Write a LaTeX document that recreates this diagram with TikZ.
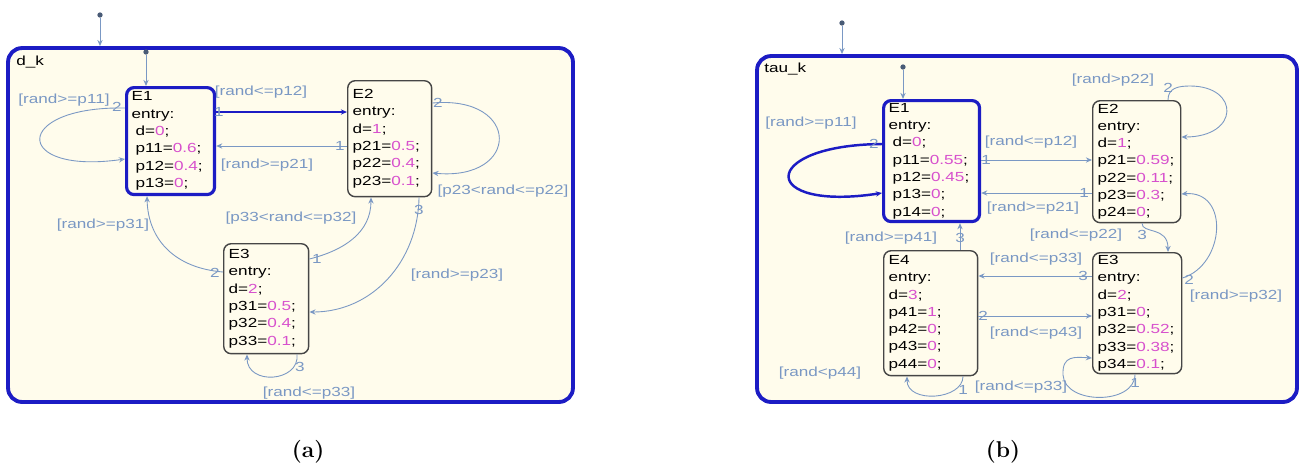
\documentclass[tikz,border=0pt]{standalone}
\usepackage{fontspec}
\newfontfamily\sflfont[FakeStretch=1.3]{Liberation Sans}
\usepackage{xcolor}
\usetikzlibrary{arrows.meta,positioning}

\definecolor{chartblue}{RGB}{28,28,196}
\definecolor{chartfill}{RGB}{255,252,236}
\definecolor{transblue}{RGB}{122,152,196}
\definecolor{stategrey}{RGB}{70,70,70}
\definecolor{valpink}{RGB}{215,80,205}
\newcommand{\val}[1]{\textcolor{valpink}{#1}}
\newcommand{\ind}{\hspace*{0.08cm}}

\begin{document}
\begin{tikzpicture}[x=0.02cm, y=-0.02cm,
    chart/.style={draw=chartblue, line width=2.2pt, fill=chartfill, rounded corners=0.28cm, inner sep=0pt},
    state/.style={draw=stategrey, line width=0.8pt, rounded corners=0.15cm, anchor=north west,
        align=left, inner xsep=0.1cm, inner ysep=0pt, font=\sflfont\fontsize{7.5}{9.85}\selectfont},
    active/.style={state, draw=chartblue, line width=1.8pt},
    trans/.style={transblue, line width=0.5pt, -{Stealth[open, length=3.5pt, width=3pt]}},
    hot/.style={trans, draw=chartblue, line width=1.4pt},
    guard/.style={text=transblue, inner sep=0pt, font=\sflfont\fontsize{7.5}{9}\selectfont},
    title/.style={anchor=north west, inner sep=0pt, font=\sflfont\fontsize{7.5}{9}\selectfont},
    dot/.style={circle, fill=transblue!60!black, inner sep=0pt, minimum size=3pt}
]
    \fill[white] (0,0) rectangle (1301,468);
    \useasboundingbox (0,0) rectangle (1301,468);

    %(a) chart d_k

    \node (dk) [chart, minimum width=11.3cm, minimum height=7.08cm] at (290.5,225) {};
    \node (dk_name) [title] at (16,56) {d\_k};
    \node (dk_top) [dot] at (100,15) {};
    \node (dk_in) [dot] at (146,52) {};

    \node (dk_e1) [active, text width=1.56cm, minimum height=2.14cm] at (125,86)
    {
        E1\\entry:\\\ind d=\val{0};\\\ind p11=\val{0.6};\\\ind p12=\val{0.4};\\\ind p13=\val{0};
    };
    \node (dk_e2) [state, text width=1.48cm, minimum height=2.32cm] at (347,80)
    {
        E2\\entry:\\d=\val{1};\\p21=\val{0.5};\\p22=\val{0.4};\\p23=\val{0.1};
    };
    \node (dk_e3) [state, text width=1.5cm, minimum height=2.2cm] at (223,243)
    {
        E3\\entry:\\d=\val{2};\\p31=\val{0.5};\\p32=\val{0.4};\\p33=\val{0.1};
    };

    \draw[trans] (dk_top) -- (dk.north -| dk_top);
    \draw[trans] (dk_in) -- (dk_e1.north -| dk_in);
    \draw[trans] (dk_e1.west |- 0,108) .. controls (12,106) and (12,175) .. (dk_e1.west |- 0,159);
    \draw[hot] (dk_e1.east |- 0,112) -- (dk_e2.west |- 0,112);
    \draw[trans] (dk_e2.west |- 0,146) -- (dk_e1.east |- 0,146);
    \draw[trans] (dk_e2.east |- 0,103) .. controls (521,95) and (521,181) .. (dk_e2.east |- 0,173);
    \draw[trans] (dk_e3.west |- 0,272) .. controls (175,268) and (148,240) .. (dk_e1.south -| 147,0);
    \draw[trans] (dk_e3.east |- 0,259) .. controls (345,250) and (371,232) .. (dk_e2.south -| 371,0);
    \draw[trans] (dk_e2.south -| 419,0) .. controls (418,262) and (372,312) .. (dk_e3.east |- 0,312);
    \draw[trans] (dk_e3.south -| 297,0) .. controls (300,382) and (247,386) .. (dk_e3.south -| 247,0);

    \node (dk_n11) [guard] at (117,107) {2};
    \node (dk_n12) [guard] at (219,112) {1};
    \node (dk_n21) [guard] at (340,146) {1};
    \node (dk_n22) [guard] at (438,103) {2};
    \node (dk_n31) [guard] at (215,273) {2};
    \node (dk_n32) [guard] at (317,259) {1};
    \node (dk_n23) [guard] at (419,210) {3};
    \node (dk_n33) [guard] at (300,367) {3};

    \node (dk_g11) [guard] at (64,100) {[rand>=p11]};
    \node (dk_g12) [guard] at (261,92) {[rand<=p12]};
    \node (dk_g21) [guard] at (267,165) {[rand>=p21]};
    \node (dk_g22) [guard] at (503,191) {[p23<rand<=p22]};
    \node (dk_g31) [guard] at (103,225) {[rand>=p31]};
    \node (dk_g32) [guard] at (291,218) {[p33<rand<=p32]};
    \node (dk_g23) [guard] at (457,275) {[rand>=p23]};
    \node (dk_g33) [guard] at (309,393) {[rand<=p33]};

    %(b) chart tau_k

    \node (tk) [chart, minimum width=10.8cm, minimum height=6.92cm] at (1027,229) {};
    \node (tk_name) [title] at (764,63) {tau\_k};
    \node (tk_top) [dot] at (842,23) {};
    \node (tk_in) [dot] at (903,67) {};

    \node (tk_e1) [active, text width=1.72cm, minimum height=2.42cm] at (882,99)
    {
        E1\\entry:\\\ind d=\val{0};\\\ind p11=\val{0.55};\\\ind p12=\val{0.45};\\\ind p13=\val{0};\\\ind p14=\val{0};
    };
    \node (tk_e2) [state, text width=1.56cm, minimum height=2.44cm] at (1092,100)
    {
        E2\\entry:\\d=\val{1};\\p21=\val{0.59};\\p22=\val{0.11};\\p23=\val{0.3};\\p24=\val{0};
    };
    \node (tk_e4) [state, text width=1.68cm, minimum height=2.5cm] at (883,250)
    {
        E4\\entry:\\d=\val{3};\\p41=\val{1};\\p42=\val{0};\\p43=\val{0};\\p44=\val{0};
    };
    \node (tk_e3) [state, text width=1.58cm, minimum height=2.42cm] at (1092,252)
    {
        E3\\entry:\\d=\val{2};\\p31=\val{0};\\p32=\val{0.52};\\p33=\val{0.38};\\p34=\val{0.1};
    };

    \draw[trans] (tk_top) -- (tk.north -| tk_top);
    \draw[trans] (tk_in) -- (tk_e1.north -| tk_in);
    \draw[hot] (tk_e1.west |- 0,144) .. controls (758,145) and (758,212) .. (tk_e1.west |- 0,193);
    \draw[trans] (tk_e1.east |- 0,160) -- (tk_e2.west |- 0,160);
    \draw[trans] (tk_e2.west |- 0,193) -- (tk_e1.east |- 0,193);
    \draw[trans] (tk_e2.north -| 1168,0) .. controls (1168,88) and (1178,86) .. (1190,86)
        .. controls (1240,86) and (1240,137) .. (tk_e2.east |- 0,137);
    \draw[trans] (tk_e2.south -| 1142,0) .. controls (1142,234) and (1168,226) .. (tk_e3.north -| 1168,0);
    \draw[trans] (tk_e3.east |- 0,278) .. controls (1225,265) and (1230,190) .. (tk_e2.east |- 0,194);
    \draw[trans] (tk_e3.west |- 0,276) -- (tk_e4.east |- 0,276);
    \draw[trans] (tk_e4.east |- 0,316) -- (tk_e3.west |- 0,316);
    \draw[trans] (tk_e3.south -| 1135,0) .. controls (1135,405) and (1065,405) .. (1063,375)
        .. controls (1062,355) and (1075,357) .. (tk_e3.west |- 0,358);
    \draw[trans] (tk_e4.south -| 963,0) .. controls (963,400) and (907,404) .. (tk_e4.south -| 907,0);
    \draw[trans] (tk_e4.north -| 960,0) -- (tk_e1.south -| 960,0);

    \node (tk_n11) [guard] at (874,144) {2};
    \node (tk_n12) [guard] at (986,160) {1};
    \node (tk_n21) [guard] at (1084,193) {1};
    \node (tk_n22) [guard] at (1168,88) {2};
    \node (tk_n23) [guard] at (1142,235) {3};
    \node (tk_n32) [guard] at (1189,280) {2};
    \node (tk_n34) [guard] at (1083,276) {3};
    \node (tk_n43) [guard] at (983,316) {2};
    \node (tk_n33) [guard] at (1135,383) {1};
    \node (tk_n44) [guard] at (963,390) {1};
    \node (tk_n41) [guard] at (960,238) {3};

    \node (tk_g11) [guard] at (811,123) {[rand>=p11]};
    \node (tk_g12) [guard] at (1031,142) {[rand<=p12]};
    \node (tk_g21) [guard] at (1033,208) {[rand>=p21]};
    \node (tk_g22) [guard] at (1113,80) {[rand>p22]};
    \node (tk_g23) [guard] at (1076,235) {[rand<=p22]};
    \node (tk_g32) [guard] at (1236,296) {[rand>=p32]};
    \node (tk_g34) [guard] at (1036,259) {[rand<=p33]};
    \node (tk_g43) [guard] at (1036,333) {[rand<=p43]};
    \node (tk_g33) [guard] at (1021,387) {[rand<=p33]};
    \node (tk_g44) [guard] at (820,373) {[rand<p44]};
    \node (tk_g41) [guard] at (891,238) {[rand>=p41]};

    %captions
    \node (cap_a) [font=\fontsize{13}{15}\selectfont\bfseries] at (308,452) {(a)};
    \node (cap_b) [font=\fontsize{13}{15}\selectfont\bfseries] at (1003,452) {(b)};

\end{tikzpicture}
\end{document}
